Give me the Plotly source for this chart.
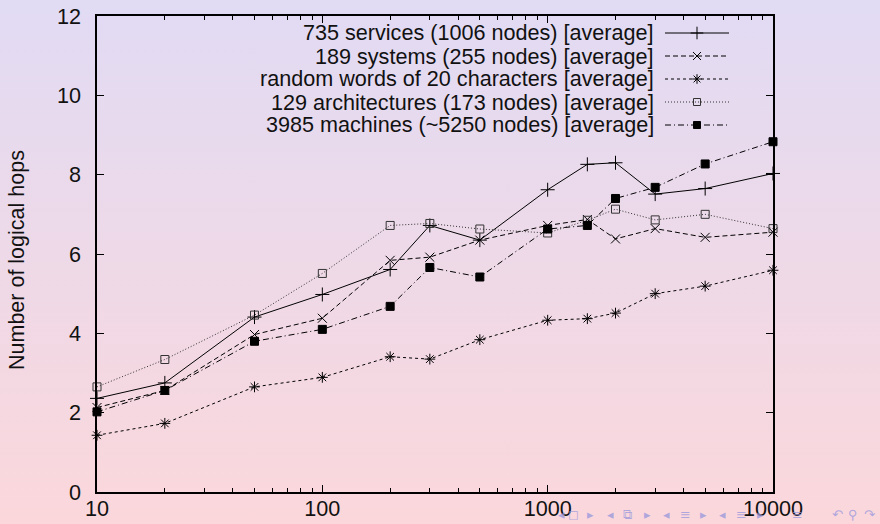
import plotly.graph_objects as go

# ---- data ----
x_values = [10, 20, 50, 100, 200, 300, 500, 1000, 1500, 2000, 3000, 5000, 10000]
services_735 = [2.36, 2.75, 4.41, 4.98, 5.61, 6.72, 6.35, 7.62, 8.26, 8.30, 7.51, 7.65, 8.03]
systems_189 = [2.13, 2.56, 3.97, 4.38, 5.84, 5.92, 6.35, 6.72, 6.87, 6.38, 6.64, 6.42, 6.55]
random_words = [1.43, 1.73, 2.65, 2.89, 3.41, 3.35, 3.84, 4.33, 4.37, 4.51, 5.00, 5.19, 5.59]
architectures_129 = [2.65, 3.34, 4.46, 5.51, 6.72, 6.77, 6.63, 6.53, 6.85, 7.13, 6.86, 7.00, 6.64]
machines_3985 = [2.02, 2.56, 3.80, 4.10, 4.68, 5.66, 5.42, 6.63, 6.72, 7.40, 7.68, 8.27, 8.83]

series_names = [
    "735 services (1006 nodes) [average]",
    "189 systems (255 nodes) [average]",
    "random words of 20 characters [average]",
    "129 architectures (173 nodes) [average]",
    "3985 machines (~5250 nodes) [average]",
]
series_values = [services_735, systems_189, random_words, architectures_129, machines_3985]

y_ticks = [0, 2, 4, 6, 8, 10, 12]
x_ticks = [10, 100, 1000, 10000]
x_tick_labels = ["10", "100", "1000", "10000"]

# ---- styles ----
FONT = "Liberation Sans, Arial, Helvetica, sans-serif"
FS = 21.6
styles = [
    dict(dash="solid", symbol="cross-thin-open", size=10, color="#000000"),
    dict(dash="5px,3px", symbol="x-thin-open", size=9, color="#000000"),
    dict(dash="3px,3px", symbol="asterisk-open", size=9, color="#000000"),
    dict(dash="1px,2px", symbol="square-open", size=8, color="#333333"),
    dict(dash="6px,3px,1px,3px", symbol="square", size=8, color="#000000"),
]

W, H = 880, 524
L, R, T, B = 97, 107, 16, 32
pw, ph = W - L - R, H - T - B


def px_to_paper_x(px):
    return (px - L) / pw


def px_to_paper_y(py):
    return (H - B - py) / ph


fig = go.Figure()

# ---- beamer navigation symbols (decoration, drawn first) ----
nav = [("◂", 561), ("◻", 573), ("▸", 590), ("◂", 610), ("⧉", 627), ("▸", 647),
       ("◂", 666), ("≡", 685), ("▸", 703), ("◂", 722), ("≡", 741), ("▸", 760),
       ("≡", 797), ("↶", 837), ("⚲", 853), ("↷", 870)]
for g, gx in nav:
    fig.add_annotation(
        x=px_to_paper_x(gx), y=px_to_paper_y(514), xref="paper", yref="paper",
        text=g, showarrow=False, xanchor="center", yanchor="middle",
        font=dict(family="DejaVu Sans", size=13, color="rgba(150,150,220,0.75)"),
    )

for name, vals, st in zip(series_names, series_values, styles):
    fig.add_trace(go.Scatter(
        x=x_values, y=vals, mode="lines+markers", name=name,
        line=dict(color=st["color"], width=1, dash=st["dash"]),
        marker=dict(symbol=st["symbol"], size=st["size"], color=st["color"],
                    line=dict(color=st["color"], width=1)),
        showlegend=False, cliponaxis=False,
    ))

# ---- custom legend (text right, sample on the right, like gnuplot) ----
row_y = [33, 56, 79, 102, 125]
text_right = 656
samp_x0, samp_x1 = 665, 729
for i, (name, st) in enumerate(zip(series_names, styles)):
    yy = px_to_paper_y(row_y[i])
    fig.add_annotation(
        x=px_to_paper_x(text_right), y=yy, xref="paper", yref="paper",
        text=name, showarrow=False, xanchor="right", yanchor="middle",
        font=dict(family=FONT, size=FS, color="#111111"),
    )
    fig.add_trace(go.Scatter(
        x=[px_to_paper_x(samp_x0), px_to_paper_x((samp_x0 + samp_x1) / 2), px_to_paper_x(samp_x1)],
        y=[yy, yy, yy], xaxis="x2", yaxis="y2", mode="lines+markers",
        line=dict(color=st["color"], width=1, dash=st["dash"]),
        marker=dict(symbol=st["symbol"], size=st["size"] - 1, color=st["color"],
                    opacity=[0, 1, 0], line=dict(color=st["color"], width=1)),
        showlegend=False, hoverinfo="skip",
    ))

# ---- y axis title ----
fig.add_annotation(
    x=px_to_paper_x(17), y=px_to_paper_y(260), xref="paper", yref="paper",
    text="Number of logical hops", textangle=-90, showarrow=False,
    xanchor="center", yanchor="middle",
    font=dict(family=FONT, size=21.5, color="#111111"),
)

# ---- background gradient ----
svg = ("data:image/svg+xml;utf8,"
       "<svg xmlns='http://www.w3.org/2000/svg' width='880' height='524'>"
       "<defs><linearGradient id='g' x1='0' y1='0' x2='0' y2='1'>"
       "<stop offset='0' stop-color='%23E1DBF4'/>"
       "<stop offset='1' stop-color='%23FBD7DB'/>"
       "</linearGradient></defs>"
       "<rect width='880' height='524' fill='url(%23g)'/></svg>")
fig.add_layout_image(dict(
    source=svg, xref="paper", yref="paper",
    x=px_to_paper_x(0), y=px_to_paper_y(0),
    sizex=W / pw, sizey=H / ph, xanchor="left", yanchor="top",
    sizing="stretch", layer="below",
))

axis_common = dict(
    showline=True, linecolor="#000000", linewidth=1.5, mirror="ticks",
    ticks="inside", ticklen=7, tickwidth=1, tickcolor="#000000",
    showgrid=False, zeroline=False,
    tickfont=dict(family=FONT, size=FS, color="#111111"),
)

fig.update_layout(
    width=W, height=H,
    margin=dict(l=L, r=R, t=T, b=B, autoexpand=False),
    paper_bgcolor="#EED9E8", plot_bgcolor="rgba(0,0,0,0)",
    xaxis=dict(type="log", range=[1, 4], tickvals=x_ticks, ticktext=x_tick_labels,
               minor=dict(ticks="inside", ticklen=4, tickcolor="#000000",
                          tickvals=[20, 30, 40, 50, 60, 70, 80, 90,
                                    200, 300, 400, 500, 600, 700, 800, 900,
                                    2000, 3000, 4000, 5000, 6000, 7000, 8000, 9000],
                          showgrid=False),
               ticklabelstandoff=-4, **axis_common),
    yaxis=dict(range=[0, 12], tickvals=y_ticks, ticklabelstandoff=10, **axis_common),
    xaxis2=dict(range=[0, 1], overlaying="x", visible=False, domain=[0, 1]),
    yaxis2=dict(range=[0, 1], overlaying="y", visible=False),
    showlegend=False,
)

fig.write_html(
    "out.html",
    config={"displayModeBar": False},
    post_script="document.body.style.margin='0';document.body.style.overflow='hidden';",
)
